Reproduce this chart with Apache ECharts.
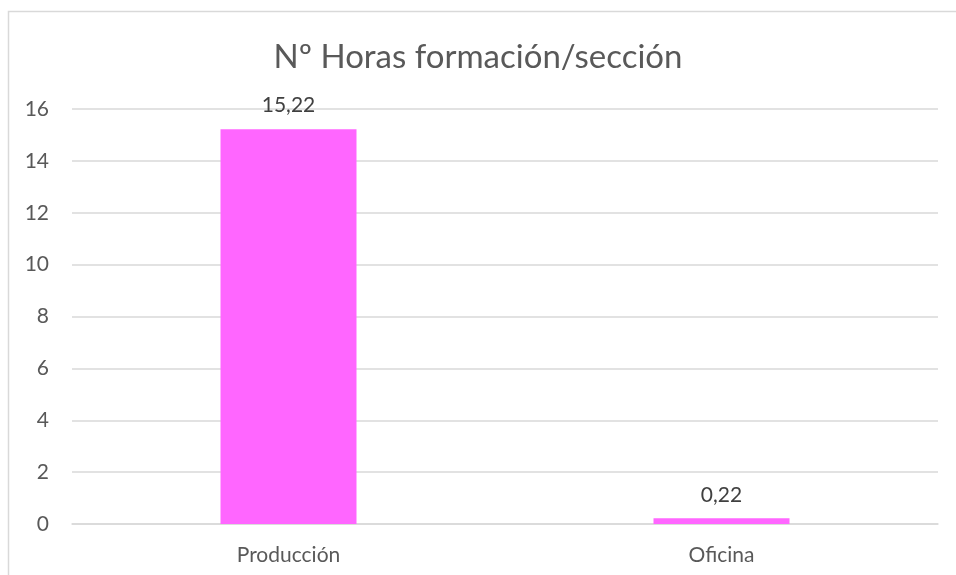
<!DOCTYPE html>
<html>
<head>
<meta charset="utf-8">
<script src="https://cdn.jsdelivr.net/npm/echarts@6/dist/echarts.min.js"></script>
<style>
  html, body { margin: 0; padding: 0; background: #fff; }
  #chart { width: 956px; height: 575px; }
</style>
</head>
<body>
<div id="chart"></div>
<script>
// secciones y horas
var categories = ['Producción', 'Oficina'];
var horas = [15.22, 0.22];
var etiquetas = ['15,22', '0,22'];

var chart = echarts.init(document.getElementById('chart'));

var option = {
    backgroundColor: '#fff',
    animation: false,
    textStyle: { fontFamily: 'Lato' },
    title: {
        text: 'Nº Horas formación/sección',
        left: 'center',
        top: 36,
        textStyle: {
            fontFamily: 'Lato',
            fontSize: 33,
            fontWeight: 'normal',
            color: '#595959'
        }
    },
    graphic: [
        {
            type: 'rect',
            shape: { x: 8.5, y: 11.5, width: 980, height: 600 },
            style: { fill: 'none', stroke: '#d9d9d9', lineWidth: 1.5 },
            silent: true
        }
    ],
    grid: {
        left: 72,
        right: 18,
        top: 109,
        bottom: 51,
        containLabel: false
    },
    xAxis: {
        type: 'category',
        data: categories,
        axisTick: { show: false },
        axisLine: { lineStyle: { color: '#d9d9d9', width: 1.5 } },
        axisLabel: { color: '#595959', fontSize: 21, margin: 21, fontFamily: 'Lato' }
    },
    yAxis: {
        type: 'value',
        min: 0,
        max: 16,
        interval: 2,
        axisLine: { show: false },
        axisTick: { show: false },
        axisLabel: { color: '#595959', fontSize: 21, margin: 23, fontFamily: 'Lato' },
        splitLine: { lineStyle: { color: '#d9d9d9', width: 1.5 } }
    },
    series: [
        {
            type: 'bar',
            data: horas,
            barWidth: 136,
            itemStyle: { color: '#ff66ff' },
            label: {
                show: true,
                position: 'top',
                distance: 13,
                color: '#404040',
                fontSize: 21,
                fontFamily: 'Lato',
                formatter: function (p) { return etiquetas[p.dataIndex]; }
            }
        }
    ]
};

chart.setOption(option);
</script>
</body>
</html>
